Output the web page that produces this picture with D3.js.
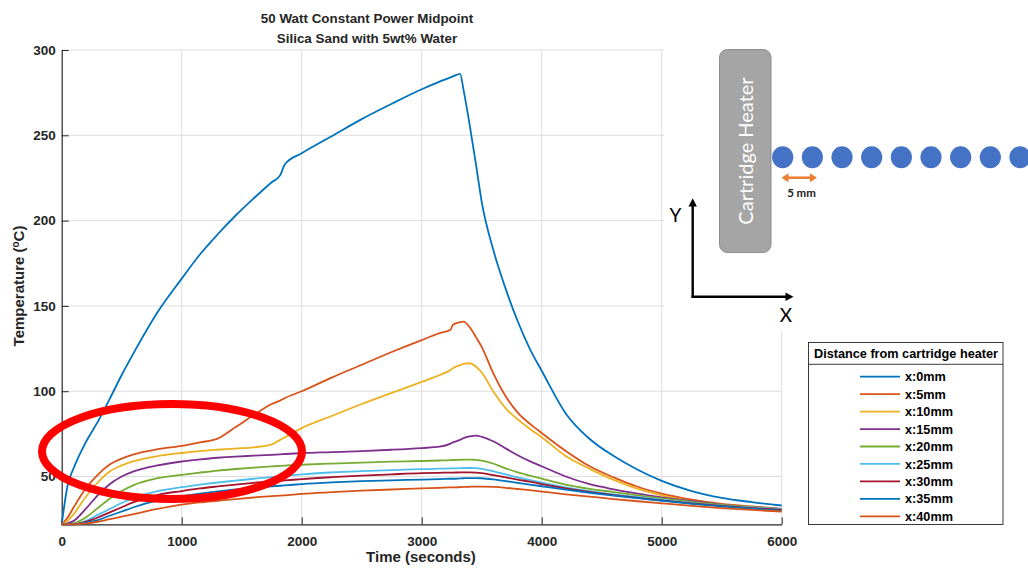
<!DOCTYPE html>
<html>
<head>
<meta charset="utf-8">
<script src="https://cdn.jsdelivr.net/npm/d3@7"></script>
<style>
  body { margin: 0; background: #ffffff; }
  svg { display: block; }
  text { font-family: "Liberation Sans", Arial, Helvetica, sans-serif; }
</style>
</head>
<body>
<svg id="chart" width="1028" height="573"></svg>
<script>
// Sample times (seconds) shared by every thermocouple trace
const timeSec = [0, 50, 100, 200, 300, 400, 500, 600, 800, 1000,
  1150, 1300, 1450, 1600, 1750, 1820, 1860, 2000,
  2250, 2500, 2750, 3000, 3150, 3240, 3260, 3320, 3350, 3400, 3450, 3500,
  3600, 3700, 3800, 3900, 4000, 4200, 4400, 4600, 4800, 5000,
  5250, 5500, 5750, 6000];

// Temperature (°C) per thermocouple, by distance from the cartridge heater
const temp0mm = [22, 45, 55, 70, 82, 95.5, 109.5, 122.5, 146.5, 166,
  180, 192, 203, 213, 222.5, 226.5, 233, 239.5,
  249.5, 259.5, 268.5, 277, 281.5, 284, 284.5, 286, 276, 256, 234, 211,
  182, 160, 141, 125, 112, 87, 72, 62, 54, 47.5,
  41.5, 37.5, 35, 33];
const temp5mm = [22, 26, 32, 43, 51, 57, 60.5, 63, 66, 68,
  70, 72.2, 79, 86, 92.5, 94.5, 96, 100,
  108, 115.5, 123, 130, 134, 136, 139, 140.5, 140.8, 137.5, 132, 126,
  110, 97, 87.5, 81, 75.5, 65, 56, 49.5, 44, 40,
  36.5, 34, 32.5, 31];
const temp10mm = [22, 24, 28, 38, 46.5, 53, 56.5, 59, 62, 63.8,
  64.9, 65.7, 66.4, 67.1, 68.8, 71.5, 73, 78.4,
  85.5, 92.5, 99, 105.5, 109.5, 112.5, 113.5, 115.3, 116, 116.4, 114.5, 111,
  99.5, 90, 83.5, 78, 73, 62, 54.5, 48, 42.8, 39,
  35.5, 33.5, 32, 30.8];
const temp15mm = [22, 22.5, 24, 31, 39, 45.5, 50, 53, 56.5, 58.8,
  60, 61, 61.7, 62.2, 62.7, 63, 63.2, 63.7,
  64.3, 64.9, 65.7, 66.7, 67.5, 69.3, 70, 71.5, 72.5, 73.5, 74, 73.3,
  70.5, 66.5, 62.5, 59, 56, 50, 45.5, 42.5, 40, 37.8,
  35.5, 33.5, 32, 31];
const temp20mm = [22, 22, 22.5, 26, 31.5, 37, 41.5, 45, 49, 51,
  52.3, 53.5, 54.4, 55.2, 55.9, 56.2, 56.4, 56.9,
  57.6, 58.2, 58.7, 59.1, 59.4, 59.6, 59.7, 59.8, 59.9, 59.9, 59.8, 59.3,
  57.5, 54.8, 52.5, 50.6, 48.8, 45.3, 42.8, 40.9, 39, 37.2,
  35.2, 33.4, 32, 30.9];
const temp25mm = [22, 22, 22, 24, 27.5, 31, 34.5, 37.5, 41.5, 43.8,
  45.2, 46.5, 47.6, 48.7, 49.7, 50.1, 50.4, 51.3,
  52.4, 53.2, 53.8, 54.3, 54.6, 54.8, 54.8, 54.9, 55, 55, 54.9, 54.5,
  53, 51.2, 49.5, 48, 46.5, 43.7, 41.5, 39.6, 38, 36.4,
  34.6, 33, 31.8, 30.7];
const temp30mm = [22, 22, 22, 23.5, 26, 29, 32, 35, 39.3, 41.5,
  43, 44.2, 45.3, 46.3, 47.2, 47.5, 47.7, 48.5,
  49.6, 50.5, 51.3, 52, 52.2, 52.3, 52.3, 52.4, 52.4, 52.4, 52.3, 52,
  50.8, 49.5, 48.2, 47, 45.6, 43.1, 41, 39.1, 37.5, 36,
  34.3, 32.8, 31.5, 30.4];
const temp35mm = [22, 22, 22, 23, 24.5, 27, 29.5, 32, 36, 38.5,
  40, 41.3, 42.4, 43.4, 44.3, 44.6, 44.8, 45.6,
  46.6, 47.3, 47.8, 48.2, 48.5, 48.7, 48.7, 48.9, 49, 49.1, 49.1, 49,
  48.3, 47.3, 46.3, 45.3, 44.3, 42.3, 40.5, 38.8, 37.3, 35.8,
  34, 32.5, 31.2, 30];
const temp40mm = [22, 22, 22, 22.5, 23.5, 25, 26.5, 28, 31, 33.5,
  34.8, 35.8, 36.8, 37.7, 38.5, 38.8, 39, 39.8,
  40.8, 41.7, 42.4, 43, 43.4, 43.6, 43.6, 43.8, 43.9, 44, 44.1, 44.1,
  43.9, 43.4, 42.7, 42, 41.2, 39.6, 38.2, 36.8, 35.5, 34.3,
  32.8, 31.5, 30.4, 29.5];

const seriesLabels = ["x:0mm", "x:5mm", "x:10mm", "x:15mm", "x:20mm",
  "x:25mm", "x:30mm", "x:35mm", "x:40mm"];
const seriesValues = [temp0mm, temp5mm, temp10mm, temp15mm, temp20mm,
  temp25mm, temp30mm, temp35mm, temp40mm];
const seriesColors = ["#0072BD", "#D95319", "#EDB120", "#7E2F8E", "#77AC30",
  "#4DBEEE", "#A2142F", "#0072BD", "#D95319"];

const xTicks = [0, 1000, 2000, 3000, 4000, 5000, 6000];
const yTicks = [50, 100, 150, 200, 250, 300];

const svg = d3.select("#chart");
const axisInk = "#262626";
const gridInk = "#dedede";

const x = d3.scaleLinear().domain([0, 6000]).range([61.7, 781.7]);
const y = d3.scaleLinear().domain([22, 300]).range([524.3, 50]);

// grid
const grid = svg.append("g");
grid.selectAll("line.gx").data(xTicks.filter(d => d > 0)).join("line")
  .attr("x1", d => x(d)).attr("x2", d => x(d))
  .attr("y1", y(22)).attr("y2", y(300))
  .attr("stroke", gridInk).attr("stroke-width", 1);
grid.selectAll("line.gy").data(yTicks).join("line")
  .attr("x1", x(0)).attr("x2", x(6000))
  .attr("y1", d => y(d)).attr("y2", d => y(d))
  .attr("stroke", gridInk).attr("stroke-width", 1);

// axes with inward ticks
const yAxis = svg.append("g").attr("transform", `translate(${x(0)},0)`)
  .call(d3.axisLeft(y).tickValues(yTicks).tickFormat(d3.format("d"))
    .tickSize(-7).tickSizeOuter(0).tickPadding(6));
const xAxis = svg.append("g").attr("transform", `translate(0,${y(22)})`)
  .call(d3.axisBottom(x).tickValues(xTicks).tickFormat(d3.format("d"))
    .tickSize(-7).tickSizeOuter(0).tickPadding(12));
[xAxis, yAxis].forEach(g => {
  g.selectAll("path.domain").attr("stroke", axisInk).attr("stroke-width", 1.2);
  g.selectAll(".tick line").attr("stroke", axisInk).attr("stroke-width", 1);
  g.selectAll(".tick text").attr("fill", axisInk)
    .style("font-size", "13.5px").style("font-weight", "bold")
    .style("font-family", "'Liberation Sans', Arial, sans-serif");
});

// traces
const line = d3.line()
  .x((d, i) => x(timeSec[i]))
  .y(d => y(d))
  .curve(d3.curveMonotoneX);
svg.append("g").selectAll("path").data(seriesValues).join("path")
  .attr("d", d => line(d))
  .attr("fill", "none")
  .attr("stroke", (d, i) => seriesColors[i])
  .attr("stroke-width", 1.8)
  .attr("stroke-linejoin", "round");

// titles and axis labels
const title = svg.append("text").attr("x", 367).attr("text-anchor", "middle")
  .attr("fill", axisInk).style("font-weight", "bold").style("font-size", "13.4px");
title.append("tspan").attr("x", 367).attr("y", 23).text("50 Watt Constant Power Midpoint");
title.append("tspan").attr("x", 367).attr("y", 43).text("Silica Sand with 5wt% Water");

svg.append("text").attr("x", 421).attr("y", 562).attr("text-anchor", "middle")
  .attr("fill", axisInk).style("font-weight", "bold").style("font-size", "15px")
  .text("Time (seconds)");

const yl = svg.append("text")
  .attr("transform", "translate(24,286) rotate(-90)")
  .attr("text-anchor", "middle").attr("fill", axisInk)
  .style("font-weight", "bold").style("font-size", "15px");
yl.append("tspan").text("Temperature (");
yl.append("tspan").attr("dy", -5).style("font-size", "10px").text("o");
yl.append("tspan").attr("dy", 5).text("C)");

// highlight ring around the early plateau
svg.append("ellipse")
  .attr("cx", 172).attr("cy", 451.5).attr("rx", 130).attr("ry", 47.5)
  .attr("fill", "none").attr("stroke", "#FF0000").attr("stroke-width", 8);

// sensor layout sketch
const sk = svg.append("g");
sk.append("rect").attr("x", 664).attr("y", 38).attr("width", 364).attr("height", 292)
  .attr("fill", "#ffffff");
sk.append("rect").attr("x", 719.5).attr("y", 49.5).attr("width", 51.5).attr("height", 203)
  .attr("rx", 8).attr("fill", "#a5a5a5").attr("stroke", "#8c8c8c").attr("stroke-width", 1);
sk.append("text")
  .attr("transform", "translate(753,151) rotate(-90)")
  .attr("text-anchor", "middle").attr("fill", "#ffffff")
  .style("font-family", "Lato, 'Open Sans', sans-serif").style("font-size", "20px")
  .text("Cartridge Heater");

const probeIndex = d3.range(9);
sk.selectAll("ellipse.probe").data(probeIndex).join("ellipse")
  .attr("cx", d => 782.7 + d * 29.66).attr("cy", 157.3)
  .attr("rx", 10.6).attr("ry", 11)
  .attr("fill", "#4472C4");

// 5 mm spacing arrow
const orange = "#ED7D31";
sk.append("line").attr("x1", 786).attr("x2", 812).attr("y1", 177.7).attr("y2", 177.7)
  .attr("stroke", orange).attr("stroke-width", 2.5);
sk.append("path").attr("d", "M781.5,177.7 L788.5,173.2 L788.5,182.2 Z").attr("fill", orange);
sk.append("path").attr("d", "M817,177.7 L810,173.2 L810,182.2 Z").attr("fill", orange);
sk.append("text").attr("x", 801.5).attr("y", 197.3).attr("text-anchor", "middle")
  .attr("fill", "#222").style("font-weight", "bold").style("font-size", "11.5px")
  .style("font-family", "Lato, 'Liberation Sans', sans-serif")
  .text("5 mm");

// X / Y orientation arrows
sk.append("line").attr("x1", 692.7).attr("x2", 692.7).attr("y1", 297.8).attr("y2", 205)
  .attr("stroke", "#000").attr("stroke-width", 2.4);
sk.append("path").attr("d", "M692.7,198.3 L688.5,206.5 L696.9,206.5 Z").attr("fill", "#000");
sk.append("line").attr("x1", 691.5).attr("x2", 787).attr("y1", 296.7).attr("y2", 296.7)
  .attr("stroke", "#000").attr("stroke-width", 2.4);
sk.append("path").attr("d", "M793.5,296.7 L785.5,292.5 L785.5,300.9 Z").attr("fill", "#000");
sk.append("text").attr("x", 675.5).attr("y", 222).attr("text-anchor", "middle")
  .attr("fill", "#000").style("font-family", "Lato, 'Open Sans', sans-serif")
  .style("font-size", "19px").text("Y");
sk.append("text").attr("x", 786).attr("y", 322).attr("text-anchor", "middle")
  .attr("fill", "#000").style("font-family", "Lato, 'Open Sans', sans-serif")
  .style("font-size", "19px").text("X");

// legend
const lg = svg.append("g");
lg.append("rect").attr("x", 808.5).attr("y", 342.5).attr("width", 194.5).attr("height", 182)
  .attr("fill", "#ffffff").attr("stroke", axisInk).attr("stroke-width", 0.9);
lg.append("line").attr("x1", 808.5).attr("x2", 1003).attr("y1", 364.3).attr("y2", 364.3)
  .attr("stroke", axisInk).attr("stroke-width", 0.9);
lg.append("text").attr("x", 906).attr("y", 357.5).attr("text-anchor", "middle")
  .attr("fill", "#000").style("font-weight", "bold").style("font-size", "12.7px")
  .text("Distance from cartridge heater");
const rows = lg.selectAll("g.row").data(seriesLabels).join("g")
  .attr("transform", (d, i) => `translate(0,${376.7 + i * 17.45})`);
rows.append("line").attr("x1", 860).attr("x2", 900).attr("y1", 0).attr("y2", 0)
  .attr("stroke", (d, i) => seriesColors[i]).attr("stroke-width", 1.8);
rows.append("text").attr("x", 905).attr("y", 4.6)
  .attr("fill", "#000").style("font-weight", "bold").style("font-size", "12.7px")
  .text(d => d);
</script>
</body>
</html>
